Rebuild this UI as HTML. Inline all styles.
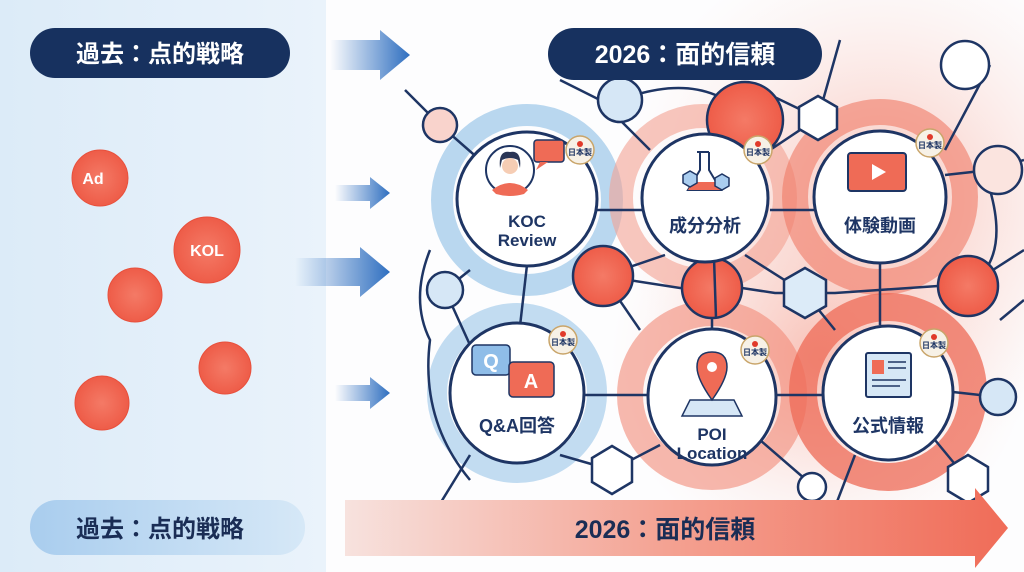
<!DOCTYPE html>
<html><head><meta charset="utf-8"><style>
html,body{margin:0;padding:0;width:1024px;height:572px;overflow:hidden;background:#fff}
svg{display:block}
text{font-family:"Liberation Sans","Noto Sans CJK JP",sans-serif;font-weight:bold}
</style></head><body>
<svg width="1024" height="572" viewBox="0 0 1024 572" xmlns="http://www.w3.org/2000/svg">
<defs>
<linearGradient id="lp" x1="0" x2="1"><stop offset="0" stop-color="#dcebf8"/><stop offset="1" stop-color="#eaf3fb"/></linearGradient>
<linearGradient id="ar" x1="0" x2="1"><stop offset="0" stop-color="#2f6fc0" stop-opacity="0"/><stop offset="1" stop-color="#2f6fc0"/></linearGradient>
<linearGradient id="bar" x1="0" x2="1"><stop offset="0" stop-color="#f7e2de"/><stop offset="0.5" stop-color="#f4a090"/><stop offset="1" stop-color="#f06c58"/></linearGradient>
<linearGradient id="lbar" x1="0" x2="1"><stop offset="0" stop-color="#a9cdee"/><stop offset="1" stop-color="#d6e8f7"/></linearGradient>
<radialGradient id="rc"><stop offset="0" stop-color="#f47a66"/><stop offset="1" stop-color="#ee5c48"/></radialGradient>
<radialGradient id="glow"><stop offset="0" stop-color="#f7b3a6" stop-opacity=".8"/><stop offset="1" stop-color="#fbe3de" stop-opacity="0"/></radialGradient>
</defs>
<rect x="0" y="0" width="326" height="572" fill="url(#lp)"/>
<rect x="326" y="0" width="698" height="572" fill="#fdfdfe"/>
<ellipse cx="880" cy="200" rx="260" ry="260" fill="url(#glow)"/>
<ellipse cx="820" cy="360" rx="210" ry="200" fill="url(#glow)"/>
<circle cx="527" cy="200" r="85" fill="none" stroke="#a8cdeb" stroke-width="22" opacity=".8"/>
<circle cx="517" cy="393" r="80" fill="none" stroke="#a8cdeb" stroke-width="20" opacity=".7"/>
<circle cx="703" cy="198" r="82" fill="none" stroke="#f4a192" stroke-width="24" opacity=".6"/>
<circle cx="880" cy="197" r="85" fill="none" stroke="#f07a66" stroke-width="26" opacity=".6"/>
<circle cx="712" cy="395" r="82" fill="none" stroke="#f28a78" stroke-width="26" opacity=".6"/>
<circle cx="888" cy="392" r="85" fill="none" stroke="#ee6a55" stroke-width="28" opacity=".75"/>
<g stroke="#1e3564" stroke-width="2.5" fill="none">
<path d="M405 90 L440 125 L480 160"/><path d="M560 80 L600 100 L650 150"/>
<path d="M597 210 L643 210"/><path d="M770 210 L815 210"/><path d="M945 175 L990 170 L1024 160"/>
<path d="M527 265 L520 326"/><path d="M603 276 L680 288 L742 288 L775 293 L835 293 L938 286"/>
<path d="M665 255 L603 276"/><path d="M745 255 L805 293"/><path d="M880 264 L880 325"/>
<path d="M712 258 L712 330"/><path d="M585 395 L647 395"/><path d="M777 395 L823 395"/>
<path d="M953 392 L998 397"/><path d="M445 290 L470 270"/><path d="M445 290 L470 345"/>
<path d="M470 455 L430 520"/><path d="M560 455 L612 470"/><path d="M660 445 L612 470"/>
<path d="M760 440 L812 485"/><path d="M935 440 L968 480"/><path d="M855 455 L830 520"/>
<path d="M603 276 L640 330"/><path d="M805 293 L835 330"/><path d="M968 286 L1024 250"/>
<path d="M990 65 L945 150"/><path d="M760 90 L818 118 L840 40"/><path d="M818 118 L770 150"/>
<path d="M430 250 Q410 300 430 340 Q420 420 470 480"/><path d="M620 100 Q700 70 745 115"/>
<path d="M990 190 Q1010 260 968 286"/><path d="M1000 320 L1024 300"/>
</g>
<g stroke="#1e3564" stroke-width="2.5">
<circle cx="745" cy="120" r="38" fill="url(#rc)"/>
<circle cx="603" cy="276" r="30" fill="url(#rc)"/>
<circle cx="712" cy="288" r="30" fill="url(#rc)"/><line x1="714" y1="258" x2="716" y2="318"/>
<circle cx="968" cy="286" r="30" fill="url(#rc)"/>
<circle cx="620" cy="100" r="22" fill="#d6e7f6"/>
<circle cx="445" cy="290" r="18" fill="#d6e7f6"/>
<circle cx="998" cy="397" r="18" fill="#d6e7f6"/>
<circle cx="440" cy="125" r="17" fill="#f9d3cc"/>
<circle cx="965" cy="65" r="24" fill="#fff"/>
<circle cx="998" cy="170" r="24" fill="#fbe4df"/>
<circle cx="812" cy="487" r="14" fill="#fff"/>
<polygon points="818,96 837,107 837,129 818,140 799,129 799,107" fill="#fff"/>
<polygon points="805,268 826,280 826,306 805,318 784,306 784,280" fill="#dcebf8"/>
<polygon points="612,446 632,458 632,482 612,494 592,482 592,458" fill="#fff"/>
<polygon points="968,455 988,467 988,491 968,503 948,491 948,467" fill="#fff"/>
</g>
<g stroke="#1e3564" stroke-width="3" fill="#fff">
<ellipse cx="527" cy="199" rx="70" ry="67"/>
<ellipse cx="705" cy="198" rx="63" ry="64"/>
<ellipse cx="880" cy="197" rx="66" ry="66"/>
<ellipse cx="517" cy="393" rx="67" ry="70"/>
<ellipse cx="712" cy="397" rx="64" ry="68"/>
<ellipse cx="888" cy="393" rx="65" ry="67"/>
</g>
<circle cx="510" cy="170" r="24" fill="#fff" stroke="#1e3564" stroke-width="2"/>
<path d="M492 190 Q510 176 528 190 L524 194 Q510 198 496 194Z" fill="#ef6b56"/>
<circle cx="510" cy="166" r="8" fill="#f6cdb4"/><path d="M500 168 Q498 150 510 152 Q522 150 520 168 L518 160 Q510 156 502 160Z" fill="#2a3555"/>
<rect x="534" y="140" width="30" height="22" rx="3" fill="#ef6b56" stroke="#1e3564" stroke-width="1.5"/>
<path d="M540 162 L536 170 L548 162" fill="#ef6b56"/>
<path d="M697 152 L709 152 M700 152 L700 170 L688 190 L721 190 L709 170 L709 152" fill="#fff" stroke="#1e3564" stroke-width="2"/>
<path d="M692 182 L717 182 L721 190 L688 190Z" fill="#ef6b56"/>
<polygon points="683,175 690,171 697,175 697,183 690,187 683,183" fill="#aacdef" stroke="#1e3564" stroke-width="1.5"/>
<polygon points="715,178 722,174 729,178 729,186 722,190 715,186" fill="#aacdef" stroke="#1e3564" stroke-width="1.5"/>
<rect x="848" y="153" width="58" height="38" rx="3" fill="#ef6b56" stroke="#1e3564" stroke-width="2"/>
<polygon points="872,164 872,180 886,172" fill="#fff"/>
<rect x="472" y="345" width="38" height="30" rx="4" fill="#8fbde8" stroke="#1e3564" stroke-width="1.5"/>
<text x="491" y="368" font-size="20" fill="#fff" text-anchor="middle">Q</text>
<rect x="509" y="362" width="45" height="35" rx="4" fill="#ef6b56" stroke="#1e3564" stroke-width="1.5"/>
<text x="531" y="388" font-size="20" fill="#fff" text-anchor="middle">A</text>
<polygon points="690,400 734,400 742,416 682,416" fill="#d6e7f6" stroke="#1e3564" stroke-width="1.5"/>
<path d="M712 352 Q697 352 697 367 Q697 379 712 400 Q727 379 727 367 Q727 352 712 352Z" fill="#ef6b56" stroke="#1e3564" stroke-width="1.5"/>
<circle cx="712" cy="367" r="5" fill="#fff"/>
<rect x="866" y="353" width="45" height="44" rx="2" fill="#d6e7f6" stroke="#1e3564" stroke-width="2"/>
<rect x="872" y="360" width="12" height="14" fill="#ef6b56"/>
<path d="M888 362h18M888 368h18M872 380h34M872 386h28" stroke="#1e3564" stroke-width="1.5"/>
<g fill="#1e3564" text-anchor="middle" font-size="17">
<text x="527" y="227">KOC</text><text x="527" y="246">Review</text>
<text x="705" y="232" font-size="18">成分分析</text>
<text x="880" y="232" font-size="18">体験動画</text>
<text x="517" y="432" font-size="18">Q&amp;A回答</text>
<text x="712" y="440">POI</text><text x="712" y="459">Location</text>
<text x="888" y="432" font-size="18">公式情報</text>
</g>
<g font-size="8" fill="#1e3564" text-anchor="middle">
<g transform="translate(580,150)"><circle r="14" fill="#f7f1e6" stroke="#c9a56a" stroke-width="1.5"/><circle cy="-6" r="3" fill="#e03a2a"/><text y="5">日本製</text></g>
<g transform="translate(758,150)"><circle r="14" fill="#f7f1e6" stroke="#c9a56a" stroke-width="1.5"/><circle cy="-6" r="3" fill="#e03a2a"/><text y="5">日本製</text></g>
<g transform="translate(930,143)"><circle r="14" fill="#f7f1e6" stroke="#c9a56a" stroke-width="1.5"/><circle cy="-6" r="3" fill="#e03a2a"/><text y="5">日本製</text></g>
<g transform="translate(563,340)"><circle r="14" fill="#f7f1e6" stroke="#c9a56a" stroke-width="1.5"/><circle cy="-6" r="3" fill="#e03a2a"/><text y="5">日本製</text></g>
<g transform="translate(755,350)"><circle r="14" fill="#f7f1e6" stroke="#c9a56a" stroke-width="1.5"/><circle cy="-6" r="3" fill="#e03a2a"/><text y="5">日本製</text></g>
<g transform="translate(934,343)"><circle r="14" fill="#f7f1e6" stroke="#c9a56a" stroke-width="1.5"/><circle cy="-6" r="3" fill="#e03a2a"/><text y="5">日本製</text></g>
</g>
<g fill="url(#rc)" stroke="#e8503c" stroke-width="1">
<circle cx="100" cy="178" r="28"/><circle cx="207" cy="250" r="33"/>
<circle cx="135" cy="295" r="27"/><circle cx="225" cy="368" r="26"/><circle cx="102" cy="403" r="27"/>
</g>
<text x="93" y="184" font-size="16" fill="#fff" text-anchor="middle">Ad</text>
<text x="207" y="256" font-size="16" fill="#fff" text-anchor="middle">KOL</text>
<g fill="url(#ar)">
<polygon points="330,40 380,40 380,30 410,55 380,80 380,70 330,70"/>
<polygon points="335,185 370,185 370,177 390,193 370,209 370,201 335,201"/>
<polygon points="295,258 360,258 360,247 390,272 360,297 360,286 295,286"/>
<polygon points="335,385 370,385 370,377 390,393 370,409 370,401 335,401"/>
</g>
<rect x="30" y="28" width="260" height="50" rx="25" fill="#17315f"/>
<text x="160" y="62" font-size="24" fill="#fff" text-anchor="middle">過去：点的戦略</text>
<rect x="548" y="28" width="274" height="52" rx="26" fill="#17315f"/>
<text x="685" y="63" font-size="25" fill="#fff" text-anchor="middle">2026：面的信頼</text>
<rect x="30" y="500" width="275" height="55" rx="27" fill="url(#lbar)"/>
<text x="160" y="537" font-size="24" fill="#1a2d55" text-anchor="middle">過去：点的戦略</text>
<polygon points="345,500 975,500 975,488 1008,528 975,568 975,556 345,556" fill="url(#bar)"/>
<text x="665" y="538" font-size="25" fill="#1a2d55" text-anchor="middle">2026：面的信頼</text>
</svg>
</body></html>
